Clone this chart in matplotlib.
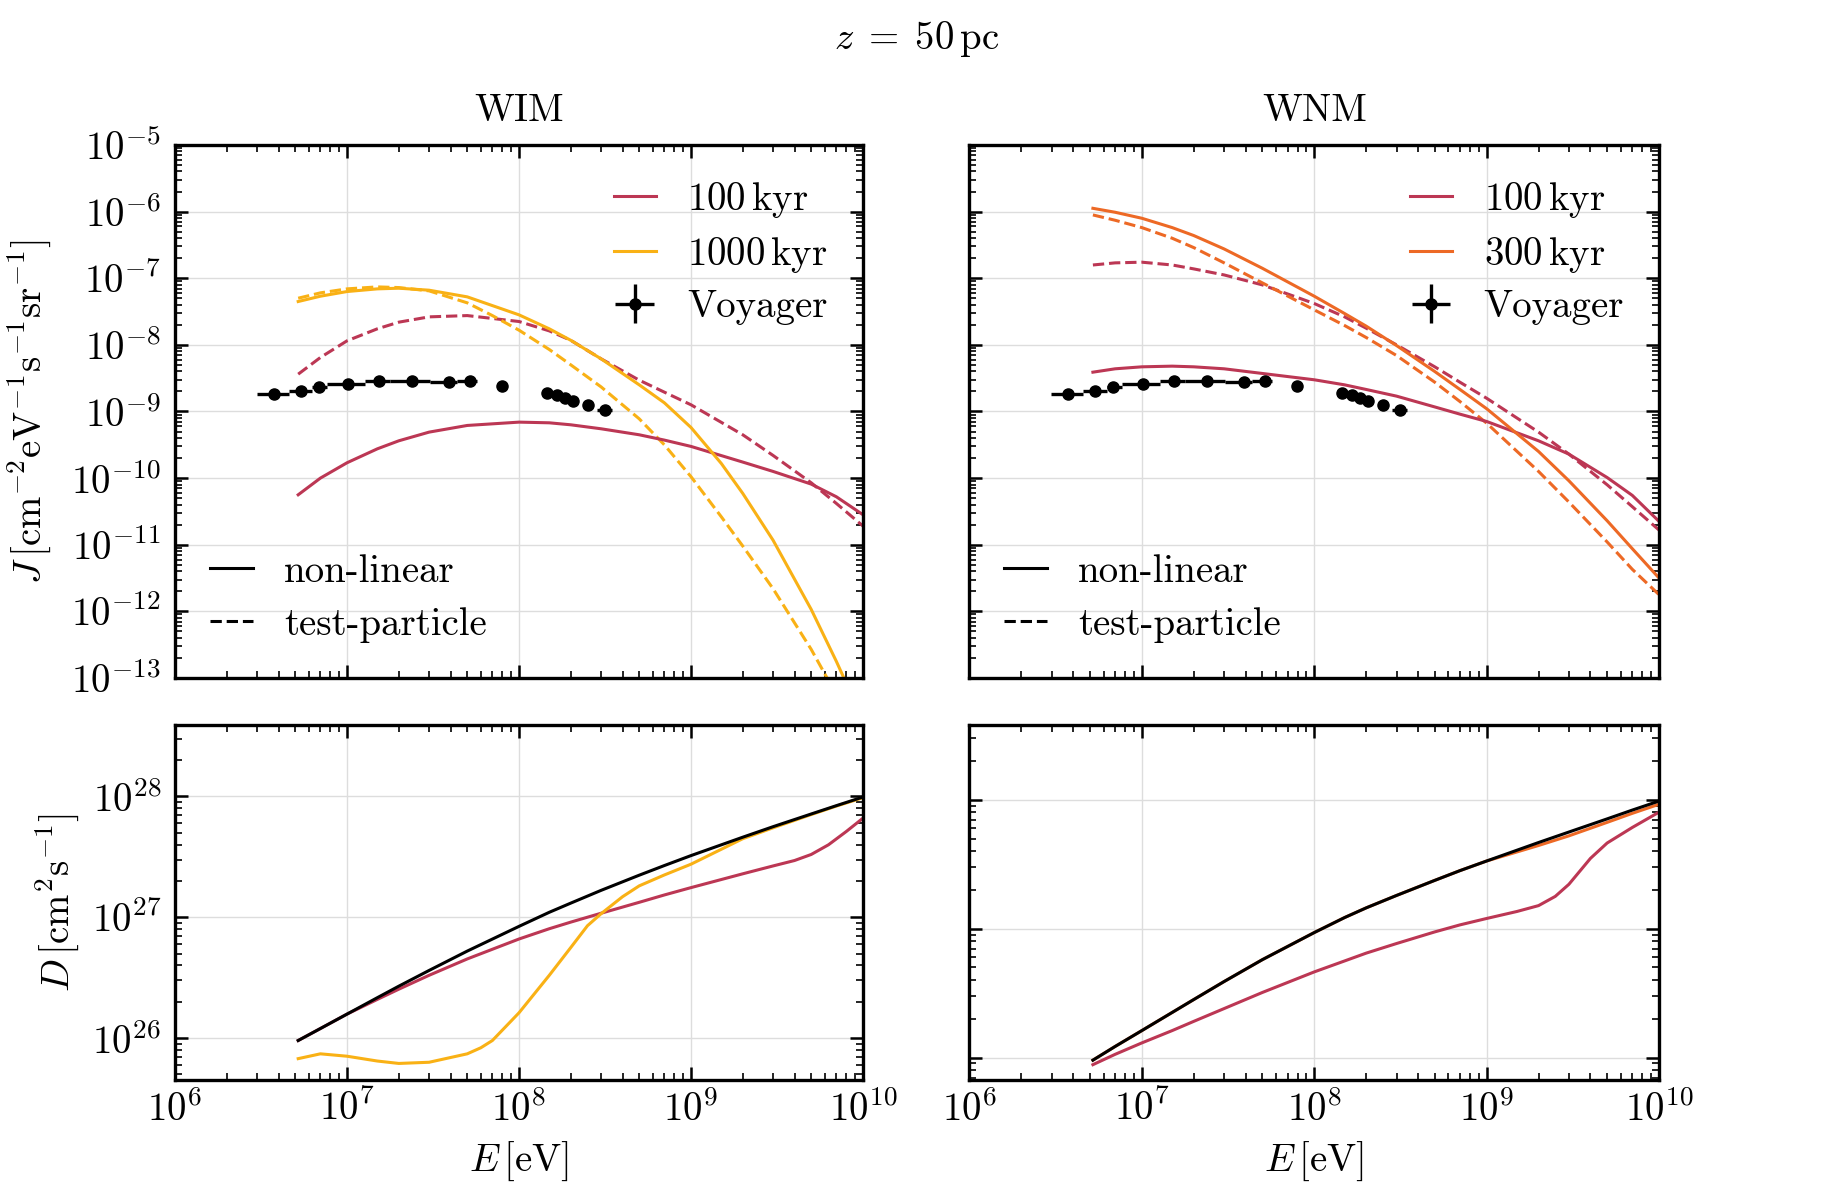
"""Cosmic-ray spectra J(E) and diffusion coefficient D(E) at z = 50 pc, WIM vs WNM."""

import matplotlib

matplotlib.use("Agg")
import matplotlib.pyplot as plt
import numpy as np
from matplotlib.lines import Line2D
from matplotlib.ticker import LogLocator, NullFormatter

plt.rcParams.update({
    "font.family": "serif",
    "font.serif": ["cmr10"],
    "mathtext.fontset": "cm",
    "axes.formatter.use_mathtext": True,
    "axes.unicode_minus": False,
    "font.size": 28,
})

RED = "#bc3754"
ORANGE = "#ed6925"
YELLOW = "#f9b115"

# ---------------------------------------------------------------- data
# common energy grid [eV]
E_GRID = [5.2e6, 7e6, 1e7, 1.5e7, 2e7, 3e7, 5e7, 1e8, 1.5e8, 2e8, 3e8,
          5e8, 7e8, 1e9, 2e9, 3e9, 5e9, 7e9, 1e10]

# WIM spectra [cm^-2 eV^-1 s^-1 sr^-1]
wim_j_100_nl = [5.62e-11, 1.00e-10, 1.70e-10, 2.75e-10, 3.63e-10, 4.90e-10, 6.17e-10,
                6.92e-10, 6.76e-10, 6.31e-10, 5.50e-10, 4.47e-10, 3.72e-10, 2.99e-10,
                1.74e-10, 1.26e-10, 8.13e-11, 5.25e-11, 2.82e-11]
wim_j_100_tp = [3.63e-9, 6.46e-9, 1.15e-8, 1.74e-8, 2.19e-8, 2.63e-8, 2.75e-8,
                2.24e-8, 1.62e-8, 1.17e-8, 6.17e-9, 2.95e-9, 1.95e-9, 1.26e-9,
                4.47e-10, 2.19e-10, 8.51e-11, 4.17e-11, 1.91e-11]

E_WIM_1000_NL = [5.2e6, 7e6, 1e7, 1.5e7, 2e7, 3e7, 5e7, 1e8, 1.5e8, 2e8, 3e8,
                 5e8, 7e8, 1e9, 1.5e9, 2e9, 3e9, 5e9, 7e9, 8e9]
wim_j_1000_nl = [4.47e-8, 5.37e-8, 6.31e-8, 6.92e-8, 7.08e-8, 6.61e-8, 5.25e-8,
                 2.82e-8, 1.74e-8, 1.17e-8, 6.17e-9, 2.51e-9, 1.35e-9, 5.75e-10,
                 1.66e-10, 5.89e-11, 1.17e-11, 1.07e-12, 1.78e-13, 8.32e-14]

E_WIM_1000_TP = [5.2e6, 7e6, 1e7, 1.5e7, 2e7, 3e7, 5e7, 7e7, 1e8, 1.5e8, 2e8,
                 3e8, 5e8, 7e8, 1e9, 1.5e9, 2e9, 3e9, 5e9, 7e9]
wim_j_1000_tp = [5.01e-8, 6.03e-8, 6.92e-8, 7.41e-8, 7.24e-8, 6.46e-8, 4.27e-8,
                 2.75e-8, 1.66e-8, 8.51e-9, 5.01e-9, 2.34e-9, 7.76e-10, 3.16e-10,
                 1.05e-10, 2.63e-11, 9.55e-12, 2.19e-12, 2.69e-13, 5.62e-14]

# WNM spectra
wnm_j_100_nl = [3.89e-9, 4.37e-9, 4.68e-9, 4.79e-9, 4.68e-9, 4.37e-9, 3.72e-9,
                2.99e-9, 2.51e-9, 2.14e-9, 1.70e-9, 1.17e-9, 9.12e-10, 7.08e-10,
                3.63e-10, 2.29e-10, 1.02e-10, 5.50e-11, 2.24e-11]
wnm_j_100_tp = [1.58e-7, 1.70e-7, 1.74e-7, 1.58e-7, 1.38e-7, 1.12e-7, 7.94e-8,
                4.17e-8, 2.63e-8, 1.78e-8, 1.00e-8, 4.68e-9, 2.75e-9, 1.58e-9,
                4.90e-10, 2.29e-10, 7.94e-11, 3.72e-11, 1.66e-11]
wnm_j_300_nl = [1.12e-6, 9.77e-7, 7.94e-7, 5.75e-7, 4.37e-7, 2.75e-7, 1.41e-7,
                5.37e-8, 2.95e-8, 1.91e-8, 9.77e-9, 3.98e-9, 2.14e-9, 1.10e-9,
                2.51e-10, 9.12e-11, 2.29e-11, 8.71e-12, 3.16e-12]
wnm_j_300_tp = [8.91e-7, 7.41e-7, 5.75e-7, 3.98e-7, 2.88e-7, 1.70e-7, 8.51e-8,
                3.35e-8, 1.95e-8, 1.29e-8, 6.92e-9, 2.75e-9, 1.41e-9, 6.68e-10,
                1.26e-10, 4.37e-11, 1.10e-11, 4.27e-12, 1.78e-12]

# Voyager data
voy_e = [3.74e6, 5.37e6, 6.84e6, 1.01e7, 1.53e7, 2.38e7, 3.90e7, 5.16e7, 7.92e7,
         1.45e8, 1.66e8, 1.85e8, 2.05e8, 2.51e8, 3.15e8]
voy_e_lo = [2.99e6, 4.58e6, 6.24e6, 7.62e6, 1.27e7, 1.77e7, 3.03e7, 4.35e7, 7.6e7,
            1.40e8, 1.61e8, 1.80e8, 1.99e8, 2.42e8, 2.83e8]
voy_e_hi = [4.58e6, 6.24e6, 7.62e6, 1.27e7, 1.77e7, 3.03e7, 4.35e7, 5.68e7, 8.2e7,
            1.50e8, 1.71e8, 1.90e8, 2.11e8, 2.60e8, 3.46e8]
voy_j = [1.84e-9, 2.06e-9, 2.37e-9, 2.59e-9, 2.90e-9, 2.90e-9, 2.74e-9, 2.90e-9,
         2.45e-9, 1.91e-9, 1.78e-9, 1.60e-9, 1.46e-9, 1.27e-9, 1.04e-9]
voy_j_err = [0.12e-9, 0.12e-9, 0.13e-9, 0.14e-9, 0.15e-9, 0.15e-9, 0.15e-9, 0.16e-9,
             0.14e-9, 0.12e-9, 0.11e-9, 0.10e-9, 0.10e-9, 0.09e-9, 0.08e-9]

# diffusion coefficients [cm^2 s^-1]
wim_d_bg = [9.55e25, 1.20e26, 1.58e26, 2.16e26, 2.69e26, 3.63e26, 5.25e26, 8.41e26,
            1.10e27, 1.31e27, 1.67e27, 2.23e27, 2.68e27, 3.24e27, 4.60e27, 5.62e27,
            7.16e27, 8.39e27, 9.89e27]
E_WIM_D_100 = [5.2e6, 7e6, 1e7, 1.5e7, 2e7, 3e7, 5e7, 1e8, 1.5e8, 2e8, 3e8, 5e8,
               7e8, 1e9, 2e9, 3e9, 4e9, 5e9, 6.3e9, 8e9, 1e10]
wim_d_100 = [9.55e25, 1.20e26, 1.58e26, 2.09e26, 2.54e26, 3.31e26, 4.52e26, 6.61e26,
             8.04e26, 9.12e26, 1.08e27, 1.33e27, 1.53e27, 1.76e27, 2.29e27, 2.66e27,
             2.95e27, 3.31e27, 3.98e27, 5.13e27, 6.61e27]
E_WIM_D_1000 = [5.2e6, 7e6, 1e7, 1.5e7, 2e7, 3e7, 5e7, 6e7, 7e7, 1e8, 1.5e8, 2e8,
                2.5e8, 3e8, 4e8, 5e8, 7e8, 1e9, 2e9, 3e9, 5e9, 7e9, 1e10]
wim_d_1000 = [6.76e25, 7.41e25, 7.08e25, 6.46e25, 6.17e25, 6.31e25, 7.41e25, 8.32e25,
              9.55e25, 1.62e26, 3.31e26, 5.62e26, 8.51e26, 1.07e27, 1.48e27, 1.82e27,
              2.24e27, 2.75e27, 4.47e27, 5.50e27, 7.08e27, 8.32e27, 9.77e27]

wnm_d_bg = [9.55e25, 1.22e26, 1.62e26, 2.24e26, 2.82e26, 3.89e26, 5.75e26, 9.33e26,
            1.22e27, 1.45e27, 1.81e27, 2.37e27, 2.82e27, 3.35e27, 4.66e27, 5.62e27,
            7.11e27, 8.32e27, 9.77e27]
wnm_d_300 = [9.55e25, 1.22e26, 1.62e26, 2.24e26, 2.82e26, 3.89e26, 5.75e26, 9.33e26,
             1.22e27, 1.45e27, 1.81e27, 2.37e27, 2.82e27, 3.35e27, 4.42e27, 5.25e27,
             6.68e27, 7.85e27, 9.23e27]
E_WNM_D_100 = [5.2e6, 7e6, 1e7, 1.5e7, 2e7, 3e7, 5e7, 1e8, 1.5e8, 2e8, 3e8, 5e8,
               7e8, 1e9, 1.5e9, 2e9, 2.5e9, 3e9, 4e9, 5e9, 7e9, 1e10]
wnm_d_100 = [8.81e25, 1.06e26, 1.30e26, 1.62e26, 1.91e26, 2.40e26, 3.20e26, 4.62e26,
             5.62e26, 6.46e26, 7.67e26, 9.44e26, 1.07e27, 1.20e27, 1.36e27, 1.51e27,
             1.78e27, 2.21e27, 3.51e27, 4.62e27, 6.10e27, 8.02e27]


def style_axis(ax, ymin, ymax):
    ax.set_xscale("log")
    ax.set_yscale("log")
    ax.set_xlim(1e6, 1e10)
    ax.set_ylim(ymin, ymax)
    for axis in (ax.xaxis, ax.yaxis):
        axis.set_major_locator(LogLocator(base=10, numticks=30))
        axis.set_minor_locator(LogLocator(base=10, subs=np.arange(2, 10), numticks=300))
        axis.set_minor_formatter(NullFormatter())
    ax.tick_params(which="both", direction="in", top=True, right=True)
    ax.tick_params(which="major", length=9.5, width=1.8, labelsize=28)
    ax.tick_params(which="minor", length=5, width=1.2)
    ax.tick_params(axis="y", which="major", pad=10)
    ax.tick_params(axis="x", which="major", pad=7)
    for sp in ax.spines.values():
        sp.set_linewidth(2.4)
    ax.grid(True, which="major", color="#dddddd", linewidth=1.0)
    ax.set_axisbelow(True)


fig = plt.figure(figsize=(18.33, 12), dpi=100)
ax_jl = fig.add_axes([0.0955, 0.435, 0.3753, 0.4442])
ax_jr = fig.add_axes([0.5289, 0.435, 0.3762, 0.4442])
ax_dl = fig.add_axes([0.0955, 0.100, 0.3753, 0.2958])
ax_dr = fig.add_axes([0.5289, 0.100, 0.3762, 0.2958])

LW = 2.2
FS = 28
voy_e_arr = np.array(voy_e)
voy_xerr = [voy_e_arr - np.array(voy_e_lo), np.array(voy_e_hi) - voy_e_arr]


def draw_voyager(ax):
    return ax.errorbar(voy_e, voy_j, xerr=voy_xerr, yerr=voy_j_err, fmt="o",
                       color="k", ms=8, elinewidth=2.4, capsize=0, zorder=5)


def add_legends(ax, lines, labels):
    leg = ax.legend(lines, labels, loc="upper right", frameon=False,
                    fontsize=FS, handlelength=1.1, labelspacing=0.38)
    ax.add_artist(leg)
    ax.legend([Line2D([], [], color="k", lw=LW), Line2D([], [], color="k", lw=LW, ls="--")],
              ["non-linear", "test-particle"], loc="lower left", frameon=False,
              fontsize=FS, handlelength=1.1, labelspacing=0.45)


# ---- WIM spectra
ax = ax_jl
style_axis(ax, 1e-13, 1e-5)
ax.plot(E_GRID, wim_j_100_tp, color=RED, lw=LW, ls="--")
ax.plot(E_WIM_1000_TP, wim_j_1000_tp, color=YELLOW, lw=LW, ls="--")
l1, = ax.plot(E_GRID, wim_j_100_nl, color=RED, lw=LW)
l2, = ax.plot(E_WIM_1000_NL, wim_j_1000_nl, color=YELLOW, lw=LW)
eb = draw_voyager(ax)
add_legends(ax, [l1, l2, eb], [r"$100\,\mathrm{kyr}$", r"$1000\,\mathrm{kyr}$", "Voyager"])
ax.set_title("WIM", fontsize=FS, pad=17)
ax.set_ylabel(r"$J\,[\mathrm{cm^{-2}eV^{-1}s^{-1}sr^{-1}}]$", fontsize=FS, labelpad=13)
ax.tick_params(axis="x", labelbottom=False)

# ---- WNM spectra
ax = ax_jr
style_axis(ax, 1e-13, 1e-5)
ax.plot(E_GRID, wnm_j_100_tp, color=RED, lw=LW, ls="--")
ax.plot(E_GRID, wnm_j_300_tp, color=ORANGE, lw=LW, ls="--")
l1, = ax.plot(E_GRID, wnm_j_100_nl, color=RED, lw=LW)
l2, = ax.plot(E_GRID, wnm_j_300_nl, color=ORANGE, lw=LW)
eb = draw_voyager(ax)
add_legends(ax, [l1, l2, eb], [r"$100\,\mathrm{kyr}$", r"$300\,\mathrm{kyr}$", "Voyager"])
ax.set_title("WNM", fontsize=FS, pad=17)
ax.tick_params(axis="x", labelbottom=False)
ax.tick_params(axis="y", labelleft=False)

# ---- WIM diffusion
ax = ax_dl
style_axis(ax, 4.5e25, 3.9e28)
ax.plot(E_WIM_D_100, wim_d_100, color=RED, lw=LW)
ax.plot(E_WIM_D_1000, wim_d_1000, color=YELLOW, lw=LW)
ax.plot(E_GRID, wim_d_bg, color="k", lw=LW)
ax.set_ylabel(r"$D\,[\mathrm{cm^{2}s^{-1}}]$", fontsize=FS, labelpad=8)
ax.set_xlabel(r"$E\,[\mathrm{eV}]$", fontsize=FS, labelpad=8)

# ---- WNM diffusion
ax = ax_dr
style_axis(ax, 6.7e25, 3.8e28)
ax.plot(E_WNM_D_100, wnm_d_100, color=RED, lw=LW)
ax.plot(E_GRID, wnm_d_300, color=ORANGE, lw=LW)
ax.plot(E_GRID, wnm_d_bg, color="k", lw=LW)
ax.set_xlabel(r"$E\,[\mathrm{eV}]$", fontsize=FS, labelpad=8)
ax.tick_params(axis="y", labelleft=False)

fig.text(0.5, 0.9675, r"$z\;=\;50\,\mathrm{pc}$", ha="center", va="center", fontsize=FS)

fig.savefig("out.png", dpi=100)
